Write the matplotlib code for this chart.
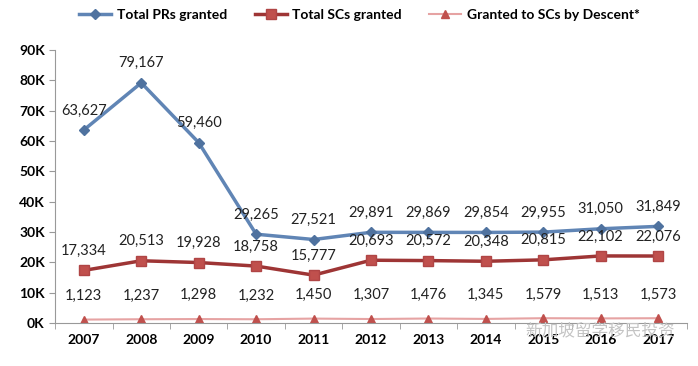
import matplotlib
matplotlib.use('Agg')
import matplotlib.pyplot as plt
from matplotlib.ticker import FuncFormatter

years = ['2007', '2008', '2009', '2010', '2011', '2012', '2013', '2014', '2015', '2016', '2017']
prs = [63627, 79167, 59460, 29265, 27521, 29891, 29869, 29854, 29955, 31050, 31849]
scs = [17334, 20513, 19928, 18758, 15777, 20693, 20572, 20348, 20815, 22102, 22076]
descent = [1123, 1237, 1298, 1232, 1450, 1307, 1476, 1345, 1579, 1513, 1573]

plt.rcParams['font.family'] = ['Lato', 'DejaVu Sans']

fig = plt.figure(figsize=(6.98, 3.66), dpi=100)
ax = fig.add_axes([0.079, 0.1175, 0.905, 0.746])

x = list(range(len(years)))
ax.plot(x, prs, color='#6085B5', lw=2.5, marker='D', ms=5, mfc='#4F729F', mec='#4F729F',
        label='Total PRs granted')
ax.plot(x, scs, color='#9E3535', lw=2.5, marker='s', ms=7, mfc='#C0504D', mec='#B04545',
        label='Total SCs granted')
ax.plot(x, descent, color='#E6A3A3', lw=1.5, marker='^', ms=6, mfc='#C0504D', mec='#C0504D',
        label='Granted to SCs by Descent*')

for i in x:
    ax.annotate(f'{prs[i]:,}', (i, prs[i]), xytext=(0, 9), textcoords='offset points',
                ha='center', va='bottom', fontsize=10.5, color='#222222')
    ax.annotate(f'{scs[i]:,}', (i, scs[i]), xytext=(0, 9), textcoords='offset points',
                ha='center', va='bottom', fontsize=10.5, color='#222222')
    ax.annotate(f'{descent[i]:,}', (i, descent[i]), xytext=(0, 12), textcoords='offset points',
                ha='center', va='bottom', fontsize=10.5, color='#222222')

ax.set_ylim(0, 90000)
ax.set_xlim(-0.5, 10.5)
ax.set_yticks(range(0, 90001, 10000))
ax.yaxis.set_major_formatter(FuncFormatter(lambda v, p: f'{int(v / 1000)}K'))
ax.set_xticks(x)
ax.set_xticklabels(years)
ax.set_xticks([i - 0.5 for i in range(len(years) + 1)], minor=True)
for lab in ax.get_xticklabels() + ax.get_yticklabels():
    lab.set_fontweight('bold')
    lab.set_fontsize(10)
ax.tick_params(axis='x', which='major', length=0, pad=8)
ax.tick_params(axis='x', which='minor', length=4, color='#999999')
ax.tick_params(axis='y', length=4, color='#999999')

for s in ['top', 'right']:
    ax.spines[s].set_visible(False)
ax.spines['left'].set_color('#999999')
ax.spines['bottom'].set_color('#999999')

fig.legend(loc='upper center', bbox_to_anchor=(0.515, 1.01), ncol=3, frameon=False,
           prop={'weight': 'bold', 'size': 10}, handlelength=2.3, columnspacing=2.0,
           handletextpad=0.4)

# watermark
fig.text(0.86, 0.095, '新加坡留学移民投资', fontsize=12, color='#c4c4c4',
         family=['Noto Sans CJK SC', 'DejaVu Sans'], ha='center', va='center')

fig.savefig('out.png', dpi=100)
